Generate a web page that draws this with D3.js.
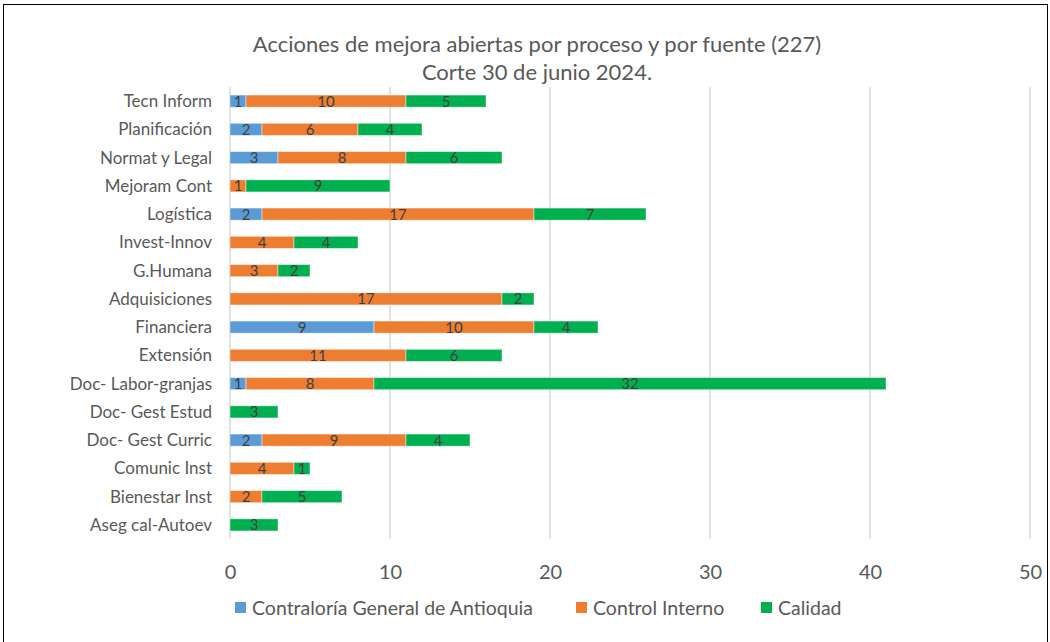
<!DOCTYPE html>
<html><head><meta charset="utf-8">
<script src="https://cdn.jsdelivr.net/npm/d3@7"></script>
<style>body{margin:0;background:#fff}svg{display:block}</style>
</head><body><svg id="c" width="1050" height="642"></svg>
<script>
const categories = ["Tecn Inform","Planificación","Normat y Legal","Mejoram Cont","Logística","Invest-Innov","G.Humana","Adquisiciones","Financiera","Extensión","Doc- Labor-granjas","Doc- Gest Estud","Doc- Gest Curric","Comunic Inst","Bienestar Inst","Aseg cal-Autoev"];
const contraloria = [1,2,3,0,2,0,0,0,9,0,1,0,2,0,0,0];
const controlInterno = [10,6,8,1,17,4,3,17,10,11,8,0,9,4,2,0];
const calidad = [5,4,6,9,7,4,2,2,4,6,32,3,4,1,5,3];
const seriesNames = ["Contraloría General de Antioquia","Control Interno","Calidad"];
const seriesColors = ["#5B9BD5","#ED7D31","#00B050"];
const xTicks = [0,10,20,30,40,50];
const titleLines = ["Acciones de mejora abiertas por proceso y por fuente (227)","Corte 30 de junio 2024."];

const font = "Lato, 'Open Sans', sans-serif";
const svg = d3.select("#c");
svg.append("rect").attr("x",3.5).attr("y",4.5).attr("width",1044).attr("height",660)
  .attr("fill","#fff").attr("stroke","#000").attr("stroke-width",1);

const pL = 230, pR = 1030, pT = 87, pB = 539;
const x = d3.scaleLinear().domain([0,50]).range([pL,pR]);
const y = d3.scaleBand().domain(categories).range([pT,pB]).paddingInner(0.57).paddingOuter(0.285);

// gridlines
svg.append("g").selectAll("line").data(xTicks).join("line")
  .attr("x1",d=>x(d)).attr("x2",d=>x(d)).attr("y1",pT).attr("y2",pB)
  .attr("stroke","#d9d9d9").attr("stroke-width",1.5);

// title
svg.append("g").selectAll("text").data(titleLines).join("text")
  .attr("x",537).attr("y",(d,i)=>52+i*28).attr("text-anchor","middle")
  .attr("font-family",font).attr("font-size",22).attr("fill","#595959").text(d=>d);

// stack
const rows = categories.map((c,i)=>({cat:c, s0:contraloria[i], s1:controlInterno[i], s2:calidad[i]}));
const stack = d3.stack().keys(["s0","s1","s2"])(rows);
const g = svg.append("g");
stack.forEach((layer,k)=>{
  g.append("g").selectAll("rect").data(layer.filter(d=>d[1]-d[0]>0)).join("rect")
    .attr("x",d=>x(d[0])).attr("y",d=>y(d.data.cat))
    .attr("width",d=>x(d[1])-x(d[0])).attr("height",y.bandwidth())
    .attr("fill",seriesColors[k]).attr("stroke","rgba(255,255,255,0.45)").attr("stroke-width",1);
});
stack.forEach((layer,k)=>{
  g.append("g").selectAll("text").data(layer.filter(d=>d[1]-d[0]>0)).join("text")
    .attr("x",d=>(x(d[0])+x(d[1]))/2).attr("y",d=>y(d.data.cat)+y.bandwidth()/2+5.5)
    .attr("text-anchor","middle").attr("font-family",font).attr("font-size",15).attr("fill","#404040")
    .text(d=>d[1]-d[0]);
});

// category axis labels
svg.append("g").selectAll("text").data(categories).join("text")
  .attr("x",212).attr("y",d=>y(d)+y.bandwidth()/2+6).attr("text-anchor","end")
  .attr("font-family",font).attr("font-size",17).attr("fill","#595959").text(d=>d);

// x axis tick labels
const xAxis = d3.axisBottom(x).tickValues(xTicks).tickSize(0).tickPadding(0);
const ax = svg.append("g").attr("transform",`translate(0,${pB+40})`).call(xAxis);
ax.select(".domain").remove();
ax.selectAll("text").attr("font-family",font).attr("font-size",20).attr("fill","#595959").attr("dy",0);

// legend
const legX = [235,576,761];
const leg = svg.append("g");
seriesNames.forEach((n,i)=>{
  leg.append("rect").attr("x",legX[i]).attr("y",602).attr("width",11).attr("height",11).attr("fill",seriesColors[i]);
  leg.append("text").attr("x",legX[i]+17).attr("y",614.5).attr("font-family",font).attr("font-size",19.5)
    .attr("fill","#595959").text(n);
});
</script></body></html>
